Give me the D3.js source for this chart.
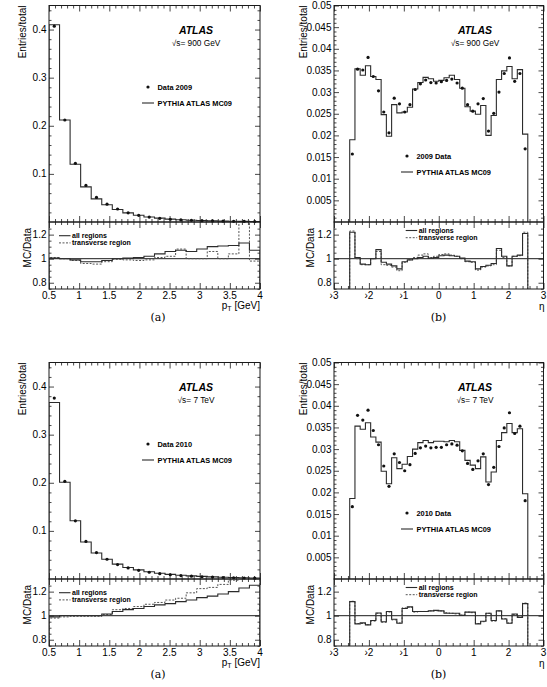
<!DOCTYPE html>
<html><head><meta charset="utf-8">
<script src="https://cdn.jsdelivr.net/npm/d3@7/dist/d3.min.js"></script>
<style>
body{margin:0;background:#fff}
svg{font-family:"Liberation Sans",Arial,Helvetica,sans-serif}
</style></head><body>
<svg id="fig" width="547" height="687"></svg>
<script>
// bin edges
var ptEdges = [0.5, 0.675, 0.85, 1.025, 1.2, 1.375, 1.55, 1.725, 1.9, 2.075, 2.25, 2.425, 2.6, 2.775, 2.95, 3.125, 3.3, 3.475, 3.65, 3.825, 4.0]
var etaEdges = [-2.55, -2.4, -2.25, -2.1, -1.95, -1.8, -1.65, -1.5, -1.35, -1.2, -1.05, -0.9, -0.75, -0.6, -0.45, -0.3, -0.15, 0,
  0.15, 0.3, 0.45, 0.6, 0.75, 0.9, 1.05, 1.2, 1.35, 1.5, 1.65, 1.8, 1.95, 2.1, 2.25, 2.4, 2.55]

// tick labels
var ptXTicks = [0.5, 1, 1.5, 2, 2.5, 3, 3.5, 4]
var etaXTicks = [-3, -2, -1, 0, 1, 2, 3]
var etaXLabels = ['\u203a3', '\u203a2', '\u203a1', '0', '1', '2', '3']
var ptYTicks = [0.1, 0.2, 0.3, 0.4]
var etaYTicks = [0.005, 0.01, 0.015, 0.02, 0.025, 0.03, 0.035, 0.04, 0.045, 0.05]
var etaYLabels = ['0.005', '0.01', '0.015', '0.02', '0.025', '0.03', '0.035', '0.04', '0.045', '0.05']
var ratioYTicks = [0.8, 1, 1.2]

// 900 GeV, pT
var mc900Pt = [0.41, 0.212, 0.12, 0.073, 0.048, 0.036, 0.026, 0.019, 0.014, 0.0105, 0.008, 0.006, 0.0047, 0.0037, 0.003, 0.0024, 0.0019, 0.0015, 0.0012, 0.001]
var data900Pt = [0.407, 0.212, 0.122, 0.076, 0.051, 0.037, 0.027, 0.019, 0.0138, 0.0103, 0.0077, 0.0057, 0.0044, 0.0035, 0.0028, 0.0022, 0.0017, 0.0013, 0.0011, 0.0009]
var ratio900PtAll = [1.005, 1.0, 0.99, 0.975, 0.975, 0.985, 1.0, 1.005, 1.01, 1.02, 1.04, 1.06, 1.07, 1.06, 1.08, 1.1, 1.105, 1.11, 1.13, 1.07]
var ratio900PtTrans = [1.01, 1.0, 0.985, 0.96, 0.955, 0.975, 0.995, 0.99, 0.985, 0.99, 1.01, 1.02, 1.08, 1.0, 1.0, 1.06, 1.0, 1.04, 1.4, 0.98]

// 900 GeV, eta
var mc900Eta = [0.0190, 0.0354, 0.0339, 0.0361, 0.0336, 0.0329, 0.0248, 0.0198, 0.0271, 0.0252, 0.0254, 0.0265, 0.0307, 0.0322, 0.0334, 0.0331, 0.0325,
  0.0327, 0.0333, 0.0339, 0.0329, 0.0309, 0.0266, 0.0256, 0.0249, 0.0269, 0.0200, 0.0246, 0.0329, 0.0349, 0.0359, 0.0331, 0.0352, 0.0203]
var data900Eta = [0.0157, 0.0353, 0.0351, 0.0380, 0.0336, 0.0303, 0.0254, 0.0206, 0.0286, 0.0273, 0.0254, 0.0271, 0.0306, 0.0319, 0.0328, 0.0322, 0.0321,
  0.0324, 0.0327, 0.0330, 0.0321, 0.0309, 0.0271, 0.0256, 0.0273, 0.0285, 0.0210, 0.0251, 0.0300, 0.0343, 0.0379, 0.0325, 0.0343, 0.0169]
var ratio900EtaAll = [1.22, 1.01, 0.955, 0.95, 1.0, 1.075, 0.97, 0.955, 0.94, 0.915, 0.975, 0.99, 1.0, 1.01, 1.02, 1.005, 1.01,
  1.025, 1.03, 1.025, 1.02, 1.005, 0.98, 0.975, 0.915, 0.935, 0.945, 0.96, 1.085, 1.02, 0.94, 1.02, 1.03, 1.21]
var ratio900EtaTrans = [1.23, 1.0, 0.95, 0.95, 1.0, 1.06, 0.95, 0.945, 0.93, 0.9, 0.97, 0.99, 1.01, 1.03, 1.04, 1.01, 1.02,
  1.035, 1.04, 1.03, 1.02, 1.0, 0.975, 0.97, 0.905, 0.93, 0.94, 0.95, 1.07, 1.01, 0.94, 1.02, 1.025, 1.22]

// 7 TeV, pT
var mc7Pt = [0.367, 0.201, 0.121, 0.077, 0.054, 0.041, 0.031, 0.024, 0.019, 0.015, 0.012, 0.0097, 0.0079, 0.0065, 0.0054, 0.0045, 0.0037, 0.0031, 0.0026, 0.0022]
var data7Pt = [0.376, 0.203, 0.121, 0.078, 0.055, 0.041, 0.030, 0.023, 0.018, 0.014, 0.011, 0.0088, 0.0071, 0.0058, 0.0047, 0.0039, 0.0031, 0.0026, 0.0021, 0.0018]
var ratio7PtAll = [0.99, 1.0, 1.0, 1.0, 1.0, 1.014, 1.035, 1.05, 1.06, 1.076, 1.09, 1.1, 1.117, 1.13, 1.15, 1.163, 1.18, 1.2, 1.23, 1.253]
var ratio7PtTrans = [0.98, 0.99, 0.995, 0.995, 0.995, 1.01, 1.05, 1.06, 1.076, 1.095, 1.11, 1.13, 1.145, 1.19, 1.225, 1.235, 1.26, 1.295, 1.34, 1.36]

// 7 TeV, eta
var mc7Eta = [0.0186, 0.0353, 0.0346, 0.0361, 0.0328, 0.0316, 0.0249, 0.0220, 0.0280, 0.0255, 0.0265, 0.0283, 0.0300, 0.0315, 0.0320, 0.0315, 0.0318,
  0.0318, 0.0317, 0.0320, 0.0317, 0.0297, 0.0274, 0.0263, 0.0255, 0.0282, 0.0224, 0.0247, 0.0320, 0.0338, 0.0359, 0.0338, 0.0347, 0.0197]
var data7Eta = [0.0167, 0.0378, 0.0367, 0.0390, 0.0343, 0.0310, 0.0261, 0.0214, 0.0289, 0.0269, 0.0250, 0.0264, 0.0290, 0.0303, 0.0307, 0.0303, 0.0304,
  0.0304, 0.0310, 0.0312, 0.0309, 0.0296, 0.0267, 0.0253, 0.0273, 0.0289, 0.0218, 0.0258, 0.0306, 0.0349, 0.0384, 0.0336, 0.0353, 0.0181]
var ratio7EtaAll = [1.117, 0.932, 0.94, 0.924, 0.96, 1.022, 0.95, 1.035, 0.97, 0.937, 1.06, 1.073, 1.035, 1.035, 1.035, 1.04, 1.044,
  1.04, 1.02, 1.02, 1.02, 1.003, 1.03, 1.03, 0.932, 0.954, 1.02, 0.96, 1.04, 0.973, 0.937, 1.014, 0.986, 1.10]
var ratio7EtaTrans = [1.12, 0.935, 0.935, 0.925, 0.955, 1.02, 0.945, 1.03, 0.965, 0.94, 1.065, 1.07, 1.03, 1.035, 1.035, 1.04, 1.04,
  1.04, 1.025, 1.02, 1.015, 1.005, 1.03, 1.025, 0.935, 0.95, 1.02, 0.955, 1.04, 0.975, 0.94, 1.01, 0.99, 1.105]


var svg = d3.select('#fig')
var ink = '#1a1a1a', histInk = '#2b2b2b'

var panels = [
  {cap: '(a)', capX: 158, x0: 49, x1: 260, top: 5.5, mid: 222, bot: 289, kind: 'pt',
   mc: mc900Pt, data: data900Pt, rAll: ratio900PtAll, rTrans: ratio900PtTrans,
   energy: '900 GeV', dataLabel: 'Data 2009'},
  {cap: '(b)', capX: 438.5, x0: 334, x1: 543.5, top: 5.5, mid: 222, bot: 289, kind: 'eta',
   mc: mc900Eta, data: data900Eta, rAll: ratio900EtaAll, rTrans: ratio900EtaTrans,
   energy: '900 GeV', dataLabel: '2009 Data'},
  {cap: '(a)', capX: 158, x0: 49, x1: 260, top: 362.5, mid: 579, bot: 646, kind: 'pt',
   mc: mc7Pt, data: data7Pt, rAll: ratio7PtAll, rTrans: ratio7PtTrans,
   energy: '7 TeV', dataLabel: 'Data 2010'},
  {cap: '(b)', capX: 438.5, x0: 334, x1: 543.5, top: 362.5, mid: 579, bot: 646, kind: 'eta',
   mc: mc7Eta, data: data7Eta, rAll: ratio7EtaAll, rTrans: ratio7EtaTrans,
   energy: '7 TeV', dataLabel: '2010 Data'}
]

function stepPoints(edges, vals, base) {
  var pts = [[edges[0], base]]
  vals.forEach(function(v, i) {
    pts.push([edges[i], v])
    pts.push([edges[i + 1], v])
  })
  pts.push([edges[edges.length - 1], base])
  return pts
}

function addTicks(g, x, y, w, h, xMaj, xMin, yMaj, yMin, xLen, yLen) {
  function clean(sel) { sel.select('.domain').remove(); sel.selectAll('line').attr('stroke', ink).attr('stroke-width', 0.8) }
  g.append('g').call(d3.axisLeft(y).tickValues(yMaj).tickSize(-yLen).tickFormat('')).call(clean)
  g.append('g').call(d3.axisLeft(y).tickValues(yMin).tickSize(-yLen / 2).tickFormat('')).call(clean)
  g.append('g').attr('transform', 'translate(' + w + ',0)').call(d3.axisRight(y).tickValues(yMaj).tickSize(-yLen).tickFormat('')).call(clean)
  g.append('g').attr('transform', 'translate(' + w + ',0)').call(d3.axisRight(y).tickValues(yMin).tickSize(-yLen / 2).tickFormat('')).call(clean)
  g.append('g').attr('transform', 'translate(0,' + h + ')').call(d3.axisBottom(x).tickValues(xMaj).tickSize(-xLen).tickFormat('')).call(clean)
  g.append('g').attr('transform', 'translate(0,' + h + ')').call(d3.axisBottom(x).tickValues(xMin).tickSize(-xLen / 2).tickFormat('')).call(clean)
  g.append('g').call(d3.axisTop(x).tickValues(xMaj).tickSize(-xLen).tickFormat('')).call(clean)
  g.append('g').call(d3.axisTop(x).tickValues(xMin).tickSize(-xLen / 2).tickFormat('')).call(clean)
}

function near(list, v) {
  return list.some(function(t) { return Math.abs(t - v) < 1e-6 })
}

panels.forEach(function(p, pi) {
  var w = p.x1 - p.x0
  var hMain = p.mid - p.top, hRat = p.bot - p.mid
  var isPt = p.kind == 'pt'
  var edges = isPt ? ptEdges : etaEdges
  var x = d3.scaleLinear().domain(isPt ? [0.5, 4] : [-3, 3]).range([0, w])
  var y = d3.scaleLinear().domain(isPt ? [0, 0.45] : [0, 0.05]).range([hMain, 0])
  var yr = d3.scaleLinear().domain([0.748, 1.305]).range([hRat, 0])

  var xMaj = isPt ? ptXTicks : etaXTicks
  var xMin = (isPt ? d3.range(0.5, 4.001, 0.1) : d3.range(-3, 3.001, 0.2)).filter(function(v) { return !near(xMaj, v) })
  var yMaj = isPt ? ptYTicks : etaYTicks
  var yMin = (isPt ? d3.range(0.02, 0.45, 0.02) : d3.range(0.001, 0.05, 0.001)).filter(function(v) { return !near(yMaj, v) })
  var rMin = d3.range(0.75, 1.3, 0.05).filter(function(v) { return !near(ratioYTicks, v) })

  // ---- main pad
  var gm = svg.append('g').attr('transform', 'translate(' + p.x0 + ',' + p.top + ')')
  svg.append('clipPath').attr('id', 'cm' + pi).append('rect').attr('width', w).attr('height', hMain)
  addTicks(gm, x, y, w, hMain, xMaj, xMin, yMaj, yMin, 6, 5)

  var line = d3.line().x(function(d) { return x(d[0]) }).y(function(d) { return y(d[1]) })
  gm.append('path')
    .attr('clip-path', 'url(#cm' + pi + ')')
    .attr('d', line(stepPoints(edges, p.mc, 0)))
    .attr('fill', 'none').attr('stroke', histInk).attr('stroke-width', 1.1)

  gm.append('g').selectAll('circle')
    .data(p.data)
    .enter()
    .append('circle')
    .attr('cx', function(d, i) { return x((edges[i] + edges[i + 1]) / 2) })
    .attr('cy', function(d) { return y(d) })
    .attr('r', 1.6)
    .attr('fill', '#111')

  gm.append('rect').attr('width', w).attr('height', hMain).attr('fill', 'none').attr('stroke', ink).attr('stroke-width', 1)

  // y tick labels main
  gm.append('g').selectAll('text')
    .data(yMaj)
    .enter()
    .append('text')
    .attr('x', -2.5)
    .attr('y', function(d) { return y(d) })
    .attr('dy', '0.35em')
    .attr('text-anchor', 'end')
    .attr('font-size', 10)
    .text(function(d, i) { return isPt ? String(d) : etaYLabels[i] })

  gm.append('text')
    .attr('transform', 'translate(' + (isPt ? -23.5 : -27.5) + ',0) rotate(-90)')
    .attr('text-anchor', 'end')
    .attr('font-size', 10)
    .text('Entries/total')

  // ATLAS label
  var cx = isPt ? 147 : 141
  gm.append('text').attr('x', cx).attr('y', 28.5).attr('text-anchor', 'middle')
    .attr('font-size', 10.5).attr('font-weight', 'bold').attr('font-style', 'italic').text('ATLAS')
  gm.append('text').attr('x', cx).attr('y', 40.5).attr('text-anchor', 'middle')
    .attr('font-size', 8.3).text('\u221as= ' + p.energy)

  // main legend
  var lx = isPt ? 93 : 67, ly = isPt ? 81.5 : 150.5
  gm.append('circle').attr('cx', lx + 6).attr('cy', ly).attr('r', 1.6).attr('fill', '#111')
  gm.append('text').attr('x', lx + 15.5).attr('y', ly + 2.6).attr('font-size', 7.4).attr('font-weight', 'bold').text(p.dataLabel)
  gm.append('line').attr('x1', lx).attr('x2', lx + 12).attr('y1', ly + 16).attr('y2', ly + 16)
    .attr('stroke', histInk).attr('stroke-width', 1.1)
  gm.append('text').attr('x', lx + 15.5).attr('y', ly + 18.6).attr('font-size', 7.4).attr('font-weight', 'bold').text('PYTHIA ATLAS MC09')

  // ---- ratio pad
  var gr = svg.append('g').attr('transform', 'translate(' + p.x0 + ',' + p.mid + ')')
  svg.append('clipPath').attr('id', 'cr' + pi).append('rect').attr('width', w).attr('height', hRat)
  addTicks(gr, x, yr, w, hRat, xMaj, xMin, ratioYTicks, rMin, 6, 5)

  gr.append('line').attr('x1', 0).attr('x2', w).attr('y1', yr(1)).attr('y2', yr(1))
    .attr('stroke', ink).attr('stroke-width', 1)

  var rline = d3.line().x(function(d) { return x(d[0]) }).y(function(d) { return yr(d[1]) })
  gr.append('path')
    .attr('clip-path', 'url(#cr' + pi + ')')
    .attr('d', rline(stepPoints(edges, p.rTrans, 0.7)))
    .attr('fill', 'none').attr('stroke', '#555').attr('stroke-width', 1).attr('stroke-dasharray', '2,1.5')
  gr.append('path')
    .attr('clip-path', 'url(#cr' + pi + ')')
    .attr('d', rline(stepPoints(edges, p.rAll, 0.7)))
    .attr('fill', 'none').attr('stroke', histInk).attr('stroke-width', 1.1)

  gr.append('rect').attr('width', w).attr('height', hRat).attr('fill', 'none').attr('stroke', ink).attr('stroke-width', 1)

  gr.append('g').selectAll('text')
    .data(ratioYTicks)
    .enter()
    .append('text')
    .attr('x', -2.5)
    .attr('y', function(d) { return yr(d) })
    .attr('dy', '0.35em')
    .attr('text-anchor', 'end')
    .attr('font-size', 10)
    .text(function(d) { return String(d) })

  gr.append('text')
    .attr('transform', 'translate(' + (isPt ? -18.5 : -20.5) + ',6) rotate(-90)')
    .attr('text-anchor', 'end')
    .attr('font-size', 10)
    .text('MC/Data')

  // ratio legend
  var rx = isPt ? 10 : 71.7, ry = isPt ? 13.7 : 8.5
  gr.append('line').attr('x1', rx).attr('x2', rx + 11.5).attr('y1', ry).attr('y2', ry).attr('stroke', histInk).attr('stroke-width', 1.1)
  gr.append('text').attr('x', rx + 13).attr('y', ry + 2.5).attr('font-size', 7).attr('font-weight', 'bold').text('all regions')
  gr.append('line').attr('x1', rx).attr('x2', rx + 11.5).attr('y1', ry + 7.2).attr('y2', ry + 7.2)
    .attr('stroke', '#555').attr('stroke-width', 1).attr('stroke-dasharray', '2,1.5')
  gr.append('text').attr('x', rx + 13).attr('y', ry + 9.7).attr('font-size', 7).attr('font-weight', 'bold').text('transverse region')

  // x tick labels
  gr.append('g').selectAll('text')
    .data(xMaj)
    .enter()
    .append('text')
    .attr('x', function(d) { return x(d) })
    .attr('y', hRat + 9.5)
    .attr('text-anchor', 'middle')
    .attr('font-size', 10)
    .text(function(d, i) { return isPt ? String(d) : etaXLabels[i] })

  if (isPt) {
    var t = gr.append('text').attr('x', w).attr('y', hRat + 19.5).attr('text-anchor', 'end').attr('font-size', 10)
    t.append('tspan').text('p')
    t.append('tspan').attr('font-size', 7).attr('dy', 2).text('T')
    t.append('tspan').attr('dy', -2).text(' [GeV]')
  } else {
    gr.append('text').attr('x', w + 1).attr('y', hRat + 20.5).attr('text-anchor', 'end').attr('font-size', 10).text('\u03b7')
  }

  svg.append('text')
    .attr('x', p.capX).attr('y', p.bot + 31.5)
    .attr('text-anchor', 'middle')
    .attr('font-family', '"DejaVu Serif","Liberation Serif",serif')
    .attr('font-size', 11)
    .text(p.cap)
})
</script>
</body></html>
